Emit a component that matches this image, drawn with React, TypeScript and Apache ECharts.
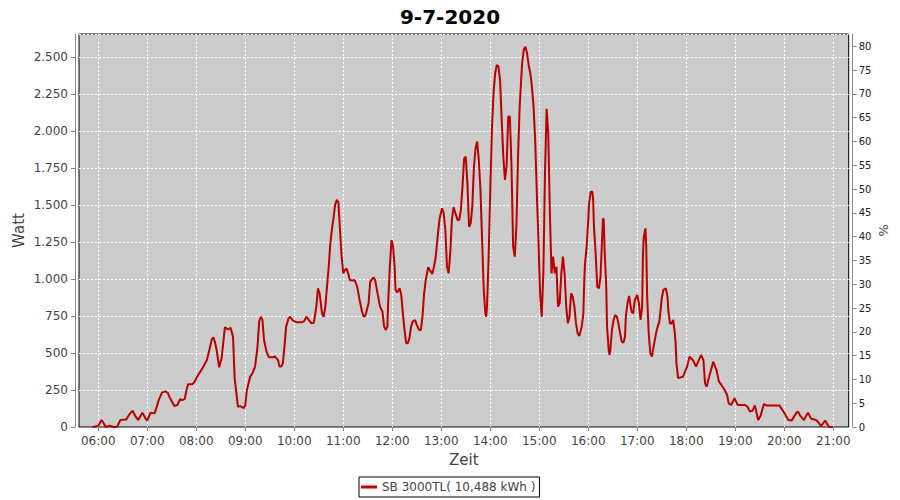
import React, { useEffect, useRef } from "react";
import * as echarts from "echarts";

const title = "9-7-2020";
const seriesName = "SB 3000TL( 10,488 kWh )";
const hourTicks = ["06:00","07:00","08:00","09:00","10:00","11:00","12:00","13:00","14:00","15:00","16:00","17:00","18:00","19:00","20:00","21:00"];

const times = [
"05:53","06:00","06:04","06:07","06:09","06:14","06:19","06:23","06:27","06:34","06:38","06:42","06:46","06:49","06:54","06:58",
"07:00","07:04","07:09","07:11","07:14","07:18","07:22","07:25","07:27","07:31","07:33","07:37","07:40","07:43","07:46","07:48","07:50","07:55","07:58",
"08:01","08:05","08:09","08:13","08:16","08:19","08:21","08:23","08:25","08:28","08:31","08:33","08:35","08:39","08:42","08:45","08:47","08:51","08:54","08:58",
"09:00","09:02","09:06","09:09","09:12","09:15","09:17","09:19","09:21","09:23","09:26","09:29","09:34","09:36","09:40","09:42","09:44","09:46","09:48","09:50","09:53","09:55","09:58",
"10:03","10:09","10:12","10:15","10:17","10:21","10:24","10:27","10:29","10:31","10:34","10:36","10:38","10:40","10:42","10:44","10:46","10:48","10:50","10:52","10:54","10:56","10:58",
"11:00","11:02","11:04","11:06","11:08","11:12","11:14","11:17","11:20","11:23","11:25","11:27","11:31","11:33","11:37","11:39","11:42","11:45","11:48","11:50","11:52","11:54","11:55","11:57","11:59",
"12:01","12:03","12:04","12:06","12:09","12:11","12:13","12:15","12:17","12:19","12:21","12:23","12:25","12:28","12:30","12:33","12:35","12:37","12:39","12:41","12:44","12:46","12:49","12:51","12:53","12:56","12:58",
"13:01","13:03","13:05","13:07","13:09","13:11","13:13","13:15","13:18","13:20","13:22","13:24","13:26","13:28","13:30","13:32","13:34","13:36","13:38","13:40","13:42","13:44","13:46","13:48","13:50","13:52","13:54","13:55","13:56","13:58",
"14:00","14:02","14:04","14:06","14:08","14:10","14:12","14:14","14:16","14:18","14:20","14:22","14:24","14:26","14:28","14:30","14:32","14:34","14:36","14:39","14:41","14:43","14:45","14:47","14:49","14:51","14:53","14:55","14:57","14:59",
"15:01","15:03","15:05","15:07","15:09","15:11","15:13","15:15","15:17","15:19","15:21","15:23","15:25","15:27","15:29","15:31","15:33","15:35","15:37","15:39","15:41","15:43","15:45","15:47","15:49","15:52","15:54","15:55","15:56","15:58",
"16:00","16:01","16:03","16:05","16:06","16:07","16:09","16:10","16:11","16:13","16:15","16:16","16:18","16:19","16:20","16:22","16:23","16:25","16:26","16:27","16:29","16:31","16:33","16:35","16:37","16:39","16:41","16:43","16:45","16:46","16:48","16:50","16:51","16:53","16:55","16:57",
"17:00","17:02","17:04","17:06","17:07","17:08","17:10","17:11","17:12","17:14","17:16","17:18","17:20","17:23","17:25","17:27","17:29","17:30","17:32","17:35","17:37","17:38","17:40","17:42","17:44","17:46","17:47","17:48","17:50","17:56",
"18:01","18:04","18:08","18:12","18:18","18:21","18:23","18:25","18:28","18:33","18:37","18:40","18:43","18:47","18:50","18:52","18:55","18:59",
"19:03","19:12","19:15","19:18","19:21","19:24","19:28","19:31","19:35","19:38","19:54","19:59",
"20:05","20:09","20:15","20:17","20:19","20:24","20:29","20:33","20:39","20:42","20:45","20:50","20:53","20:55","21:00"
];

const watts = [
0,8,47,22,0,8,0,2,47,50,85,110,68,47,97,56,
43,97,92,126,182,232,241,232,205,164,142,149,187,182,190,250,288,288,306,
340,374,410,453,520,592,606,570,520,403,464,566,673,660,670,610,329,137,141,128,
146,250,340,365,408,543,712,745,724,588,509,471,471,478,453,408,408,430,543,678,734,745,720,
707,707,714,745,729,700,704,813,937,903,768,745,813,943,1070,1230,1331,1410,1500,1534,1520,1331,1151,
1038,1060,1070,1038,993,990,993,948,858,779,745,752,836,982,1011,993,903,813,779,678,655,678,847,1083,1263,
1218,1072,926,908,937,892,768,655,566,566,599,678,712,723,690,655,655,745,903,993,1079,1060,1034,1080,1140,1309,1410,
1478,1444,1331,1083,1038,1174,1399,1484,1433,1399,1399,1466,1624,1815,1826,1646,1353,1376,1489,1759,1883,1928,1800,1601,1263,926,768,745,813,1151,
1601,2007,2255,2390,2446,2435,2345,2074,1826,1669,1759,2097,2097,1759,1218,1151,1353,1826,2164,2457,2547,2570,2525,2446,2390,2300,2164,1939,1579,1263,
903,745,1038,1714,2150,1984,1444,1038,1151,1038,1083,813,835,1038,1151,1038,813,700,745,903,880,813,700,633,615,678,768,971,1106,1218,
1399,1511,1590,1590,1534,1353,1174,1061,948,937,1016,1151,1410,1399,1196,948,678,520,486,520,655,723,757,745,700,633,576,570,610,745,836,885,847,779,768,858,
892,836,723,813,1174,1286,1342,1218,903,633,498,475,543,633,678,712,813,870,926,937,880,790,700,700,723,633,566,430,330,340,
408,475,453,408,486,453,295,272,340,441,385,306,284,250,216,160,149,194,
149,149,137,104,110,146,47,76,155,146,146,104,
47,43,97,104,81,47,97,56,47,30,5,43,16,0,0
];

const xMinMinutes = 336.4;
const xMaxMinutes = 1278.9;
const wattMax = 2655;
const pctMax = 82.6;

const toMin = (t: string) => {
  const [h, m] = t.split(":").map(Number);
  return h * 60 + m;
};
const fmtTime = (v: number) => {
  const h = Math.floor(v / 60);
  const m = Math.round(v - h * 60);
  return String(h).padStart(2, "0") + ":" + String(m).padStart(2, "0");
};
const fmtThousands = (v: number) => {
  const s = String(Math.round(v));
  return s.replace(/\B(?=(\d{3})+(?!\d))/g, ".");
};

const FONT = "DejaVu Sans";

export default function App() {
  const ref = useRef<HTMLDivElement>(null);
  useEffect(() => {
    if (!ref.current) return;
    const chart = echarts.init(ref.current, undefined, { renderer: "svg" });
    const data = times.map((t, i) => [toMin(t), watts[i]]);
    const hourVals = hourTicks.map(toMin);
    chart.setOption({
      animation: false,
      backgroundColor: "#ffffff",
      title: {
        text: title,
        left: "center",
        top: 2,
        textStyle: { fontFamily: FONT, fontSize: 20, fontWeight: "bold", color: "#000" },
      },
      legend: {
        data: [{ name: seriesName, icon: "rect" }],
        left: 359,
        top: 477,
        padding: [4, 4, 4, 2],
        itemWidth: 16,
        itemHeight: 3,
        itemGap: 5,
        borderColor: "#000",
        borderWidth: 1,
        borderRadius: 0,
        textStyle: { fontFamily: FONT, fontSize: 12, color: "#444" },
      },
      grid: {
        left: 79,
        right: 51.3,
        top: 34,
        bottom: 73,
        show: true,
        backgroundColor: "#cccccc",
        borderColor: "#000",
        borderWidth: 1,
        containLabel: false,
        outerBoundsMode: "none",
      },
      xAxis: {
        type: "value",
        min: xMinMinutes,
        max: xMaxMinutes,
        offset: 4,
        name: "Zeit",
        nameLocation: "middle",
        nameGap: 21,
        nameMoveOverlap: false,
        nameTextStyle: { fontFamily: FONT, fontSize: 15, color: "#444" },
        axisLine: { show: true, lineStyle: { color: "#888", width: 1 } },
        axisTick: { show: true, length: 4, lineStyle: { color: "#888" }, customValues: hourVals },
        axisLabel: {
          customValues: hourVals,
          formatter: (v: number) => fmtTime(v),
          fontFamily: FONT,
          fontSize: 12,
          color: "#444",
          margin: 4,
        },
        splitLine: { show: true, lineStyle: { color: "#ffffff", type: [2, 2], width: 1 } },
      },
      yAxis: [
        {
          type: "value",
          min: 0,
          max: wattMax,
          interval: 250,
          offset: 4,
          position: "left",
          name: "Watt",
          nameLocation: "middle",
          nameGap: 49,
          nameMoveOverlap: false,
          nameTextStyle: { fontFamily: FONT, fontSize: 15, color: "#444" },
          axisLine: { show: true, lineStyle: { color: "#888", width: 1 } },
          axisTick: { show: true, length: 4, lineStyle: { color: "#888" } },
          axisLabel: {
            formatter: (v: number) => fmtThousands(v),
            fontFamily: FONT,
            fontSize: 12,
            color: "#444",
            margin: 7,
            showMaxLabel: false,
          },
          splitLine: { show: true, lineStyle: { color: "#ffffff", type: [2, 2], width: 1 } },
        },
        {
          type: "value",
          min: 0,
          max: pctMax,
          interval: 5,
          offset: 4,
          position: "right",
          name: "%",
          nameLocation: "middle",
          nameRotate: -90,
          nameGap: 24,
          nameMoveOverlap: false,
          nameTextStyle: { fontFamily: FONT, fontSize: 13, color: "#444" },
          axisLine: { show: true, lineStyle: { color: "#888", width: 1 } },
          axisTick: { show: true, length: 4, lineStyle: { color: "#888" } },
          axisLabel: { fontFamily: FONT, fontSize: 10, color: "#222", margin: 6, showMaxLabel: false },
          splitLine: { show: false },
        },
      ],
      series: [
        {
          name: seriesName,
          type: "line",
          yAxisIndex: 0,
          data,
          symbol: "none",
          showSymbol: false,
          lineStyle: { color: "#bb0000", width: 2 },
          itemStyle: { color: "#bb0000" },
        },
      ],
    });
    return () => chart.dispose();
  }, []);
  return (
    <div
      ref={ref}
      style={{ position: "fixed", left: 0, top: 0, width: 900, height: 500 }}
    />
  );
}
